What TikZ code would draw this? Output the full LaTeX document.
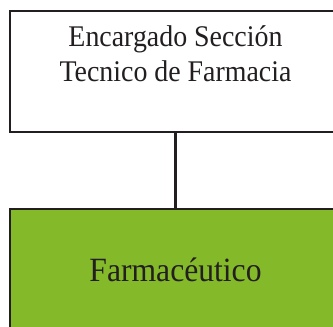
\documentclass[tikz,border=0pt]{standalone}
\usepackage{fontspec}
\setmainfont[FakeStretch=0.93]{Liberation Serif}
\definecolor{leafgreen}{RGB}{132,186,42}
\definecolor{edgeblack}{RGB}{35,31,32}
\tikzset{
  orgbox/.style={draw=edgeblack, line width=2.2pt, minimum width=331pt, minimum height=121pt,
    inner sep=0pt},
  orgtext/.style={anchor=base, inner sep=0pt, align=center, text=edgeblack},
  link/.style={draw=edgeblack, line width=2.2pt}
}
\begin{document}
\begin{tikzpicture}[x=1pt,y=1pt]
\useasboundingbox (0,0) rectangle (333,327);
\begin{scope}
\clip (0,0) rectangle (333,327);
\node[orgbox, fill=white] (enc) at (175.5,255.5) {};
\node[orgbox, fill=leafgreen] (far) at (175.5,57.5) {};
\draw[link] (enc.south) -- (far.north);
\node[orgtext, font=\fontsize{30}{35}\selectfont] (enctext) at (175.5,245) {Encargado Sección\\Tecnico de Farmacia};
\node[orgtext, font=\fontsize{34}{38}\selectfont] (fartext) at (175.5,45) {Farmacéutico};
\end{scope}
\end{tikzpicture}
\end{document}
